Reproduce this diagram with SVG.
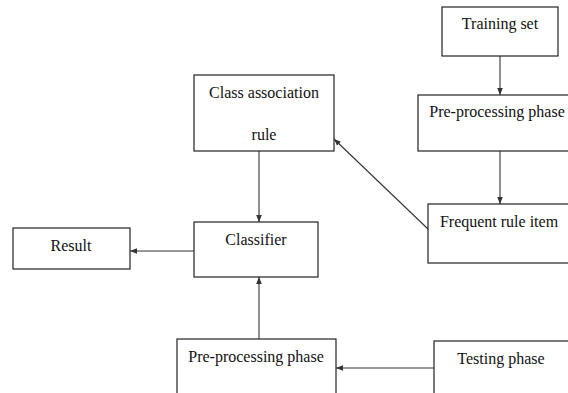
<svg xmlns="http://www.w3.org/2000/svg" width="568" height="393" viewBox="0 0 568 393">
<style>
.box{fill:#fff;stroke:#222;stroke-width:1.2}
.t{font-family:"Liberation Serif","Times New Roman",serif;font-size:16px;fill:#111;text-anchor:middle}
.c{stroke:#333;stroke-width:1.1;fill:none;marker-end:url(#ah)}
</style>
<defs>
<marker id="ah" viewBox="0 0 10 10" refX="10" refY="5" markerWidth="7" markerHeight="7" markerUnits="userSpaceOnUse" orient="auto">
<path d="M0,1 L10,5 L0,9 Z" fill="#333"/>
</marker>
</defs>
<rect width="568" height="393" fill="#fff"/>
<g id="connectors">
<line class="c" x1="500" y1="56" x2="500" y2="95"/>
<line class="c" x1="500" y1="151" x2="500" y2="204"/>
<line class="c" x1="428" y1="229" x2="334" y2="139"/>
<line class="c" x1="259" y1="151" x2="259" y2="222"/>
<line class="c" x1="194" y1="251" x2="130" y2="251"/>
<line class="c" x1="259" y1="339" x2="259" y2="277"/>
<line class="c" x1="434" y1="368" x2="336" y2="368"/>
</g>
<g id="training-set">
<rect class="box" x="442" y="7" width="116" height="49"/>
<text class="t" x="500" y="29">Training set</text>
</g>
<g id="preprocessing-top">
<rect class="box" x="418" y="95" width="160" height="56"/>
<text class="t" x="497" y="117">Pre-processing phase</text>
</g>
<g id="frequent-rule-item">
<rect class="box" x="428" y="204" width="150" height="59"/>
<text class="t" x="499" y="227">Frequent rule item</text>
</g>
<g id="class-association-rule">
<rect class="box" x="194" y="75" width="140" height="76"/>
<text class="t" x="264" y="98">Class association</text>
<text class="t" x="264" y="140">rule</text>
</g>
<g id="classifier">
<rect class="box" x="194" y="222" width="124" height="55"/>
<text class="t" x="256" y="245">Classifier</text>
</g>
<g id="result">
<rect class="box" x="13" y="228" width="117" height="41"/>
<text class="t" x="71" y="251">Result</text>
</g>
<g id="preprocessing-bottom">
<rect class="box" x="177" y="339" width="159" height="70"/>
<text class="t" x="256" y="362">Pre-processing phase</text>
</g>
<g id="testing-phase">
<rect class="box" x="434" y="341" width="144" height="70"/>
<text class="t" x="501" y="364">Testing phase</text>
</g>
</svg>
